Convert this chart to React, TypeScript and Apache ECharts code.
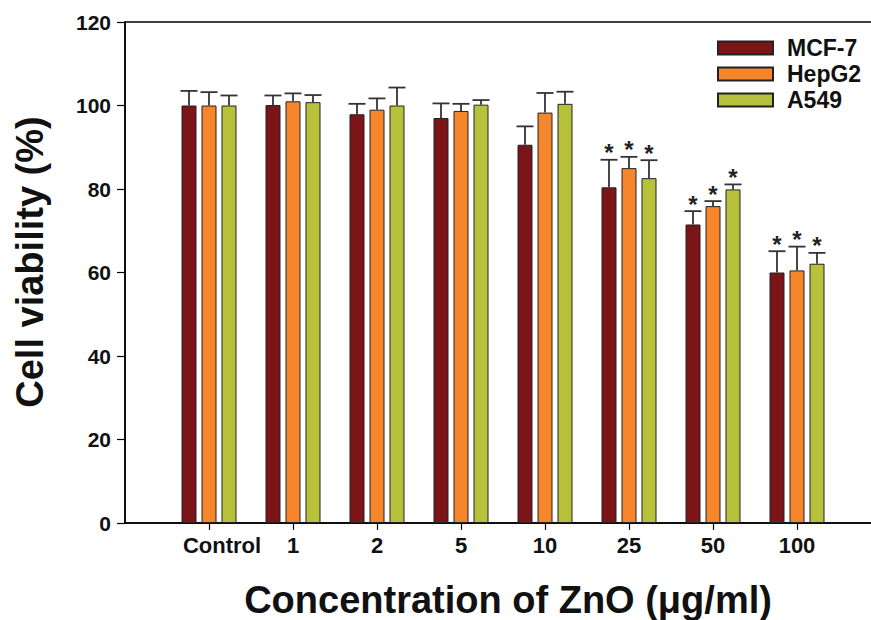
import React, { useEffect, useRef } from "react";
import * as echarts from "echarts";

const categories = ["Control", "1", "2", "5", "10", "25", "50", "100"];
const seriesNames = ["MCF-7", "HepG2", "A549"];
const mcf7 = [100.0, 100.1, 97.9, 97.0, 90.6, 80.4, 71.5, 60.0];
const mcf7Err = [3.5, 2.3, 2.5, 3.5, 4.4, 6.6, 3.2, 5.1];
const hepg2 = [100.0, 101.0, 99.0, 98.7, 98.3, 85.0, 75.9, 60.5];
const hepg2Err = [3.2, 1.9, 2.7, 1.7, 4.7, 2.7, 1.2, 5.7];
const a549 = [100.0, 100.8, 100.0, 100.2, 100.4, 82.6, 79.9, 62.1];
const a549Err = [2.4, 1.7, 4.3, 1.1, 2.9, 4.3, 1.2, 2.6];
const significant = [false, false, false, false, false, true, true, true];
const colors = ["#7B1518", "#F5862B", "#B7C13B"];
const yTicks = { min: 0, max: 120, interval: 20 };

const FONT = '"Liberation Sans", Arial, sans-serif';
const BAR_W = 15;
const BAR_GAP = 5;
const CHART_W = 910;

export default function App() {
  const ref = useRef<HTMLDivElement>(null);
  useEffect(() => {
    if (!ref.current) return;
    const chart = echarts.init(ref.current, null, { renderer: "svg" });
    const allVals = [mcf7, hepg2, a549];
    const allErr = [mcf7Err, hepg2Err, a549Err];
    const xData = ["", ...categories, ""];

    const barSeries = seriesNames.map((name, s) => ({
      type: "bar",
      name,
      data: [null, ...allVals[s], null],
      barWidth: BAR_W,
      barGap: (BAR_GAP / BAR_W) * 100 + "%",
      itemStyle: { color: colors[s], borderColor: "#222", borderWidth: 1 },
      z: 2,
    }));

    const errSeries = seriesNames.map((name, s) => {
      const offset = (s - 1) * (BAR_W + BAR_GAP);
      return {
        type: "custom",
        name: name + "-err",
        z: 5,
        silent: true,
        data: allVals[s].map((v, i) => [i + 1, v, allErr[s][i], significant[i] ? 1 : 0]),
        renderItem: (params: any, api: any) => {
          const idx = api.value(0);
          const v = api.value(1);
          const e = api.value(2);
          const sig = api.value(3);
          const base = api.coord([idx, v]);
          const top = api.coord([idx, v + e]);
          const cx = base[0] + offset;
          const children: any[] = [
            {
              type: "line",
              shape: { x1: cx, y1: base[1], x2: cx, y2: top[1] },
              style: { stroke: "#333", lineWidth: 1.8 },
            },
            {
              type: "line",
              shape: { x1: cx - BAR_W / 2 - 1, y1: top[1], x2: cx + BAR_W / 2 + 1, y2: top[1] },
              style: { stroke: "#333", lineWidth: 1.8 },
            },
          ];
          if (sig) {
            children.push({
              type: "text",
              x: cx,
              y: top[1] - 7,
              style: {
                text: "*",
                fontSize: 24,
                fontWeight: "bold",
                fontFamily: FONT,
                fill: "#222",
                align: "center",
                verticalAlign: "middle",
              },
            });
          }
          return { type: "group", children };
        },
      };
    });

    chart.setOption({
      animation: false,
      backgroundColor: "#fff",
      grid: {
        left: 125,
        top: 22,
        right: CHART_W - 881,
        bottom: 97,
        show: true,
        borderColor: "#000",
        borderWidth: 1.5,
        containLabel: false,
      },
      legend: {
        data: seriesNames,
        orient: "vertical",
        left: 717,
        top: 36,
        itemWidth: 55,
        itemHeight: 13,
        itemGap: 2,
        icon: "rect",
        padding: 0,
        textStyle: {
          fontSize: 23,
          fontWeight: "bold",
          fontFamily: FONT,
          color: "#111",
          lineHeight: 24,
          padding: [0, 0, 0, 9],
        },
      },
      xAxis: {
        type: "category",
        data: xData,
        boundaryGap: false,
        axisLine: { lineStyle: { color: "#000", width: 1.5 } },
        axisTick: {
          show: true,
          length: 7,
          interval: (i: number) => i >= 1 && i <= categories.length,
          lineStyle: { color: "#000", width: 1.2 },
        },
        axisLabel: {
          interval: 0,
          margin: 11,
          fontSize: 22,
          fontWeight: "bold",
          fontFamily: FONT,
          color: "#111",
          formatter: (v: string) => (v === "Control" ? "{c|Control}" : v),
          rich: {
            c: {
              padding: [0, 0, 0, 26],
              fontSize: 22,
              fontWeight: "bold",
              fontFamily: FONT,
              color: "#111",
            },
          },
        },
        splitLine: { show: false },
      },
      yAxis: {
        type: "value",
        min: yTicks.min,
        max: yTicks.max,
        interval: yTicks.interval,
        axisLine: { show: true, lineStyle: { color: "#000", width: 1.5 } },
        axisTick: { show: true, length: 8, lineStyle: { color: "#000", width: 1.2 } },
        axisLabel: {
          margin: 14,
          fontSize: 21,
          fontWeight: "bold",
          fontFamily: FONT,
          color: "#111",
        },
        splitLine: { show: false },
      },
      graphic: [
        {
          type: "text",
          x: 30,
          y: 262,
          rotation: Math.PI / 2,
          style: {
            text: "Cell viability (%)",
            fontSize: 38,
            fontWeight: "bold",
            fontFamily: FONT,
            fill: "#111",
            align: "center",
            verticalAlign: "middle",
          },
        },
        {
          type: "text",
          x: 508,
          y: 600,
          style: {
            text: "Concentration of ZnO (\u03bcg/ml)",
            fontSize: 38,
            fontWeight: "bold",
            fontFamily: FONT,
            fill: "#111",
            align: "center",
            verticalAlign: "middle",
          },
        },
      ],
      series: [...barSeries, ...errSeries],
    });
    return () => chart.dispose();
  }, []);
  return (
    <div
      style={{
        position: "absolute",
        left: 0,
        top: 0,
        width: 871,
        height: 620,
        overflow: "hidden",
      }}
    >
      <div ref={ref} style={{ width: CHART_W, height: 620 }} />
    </div>
  );
}
